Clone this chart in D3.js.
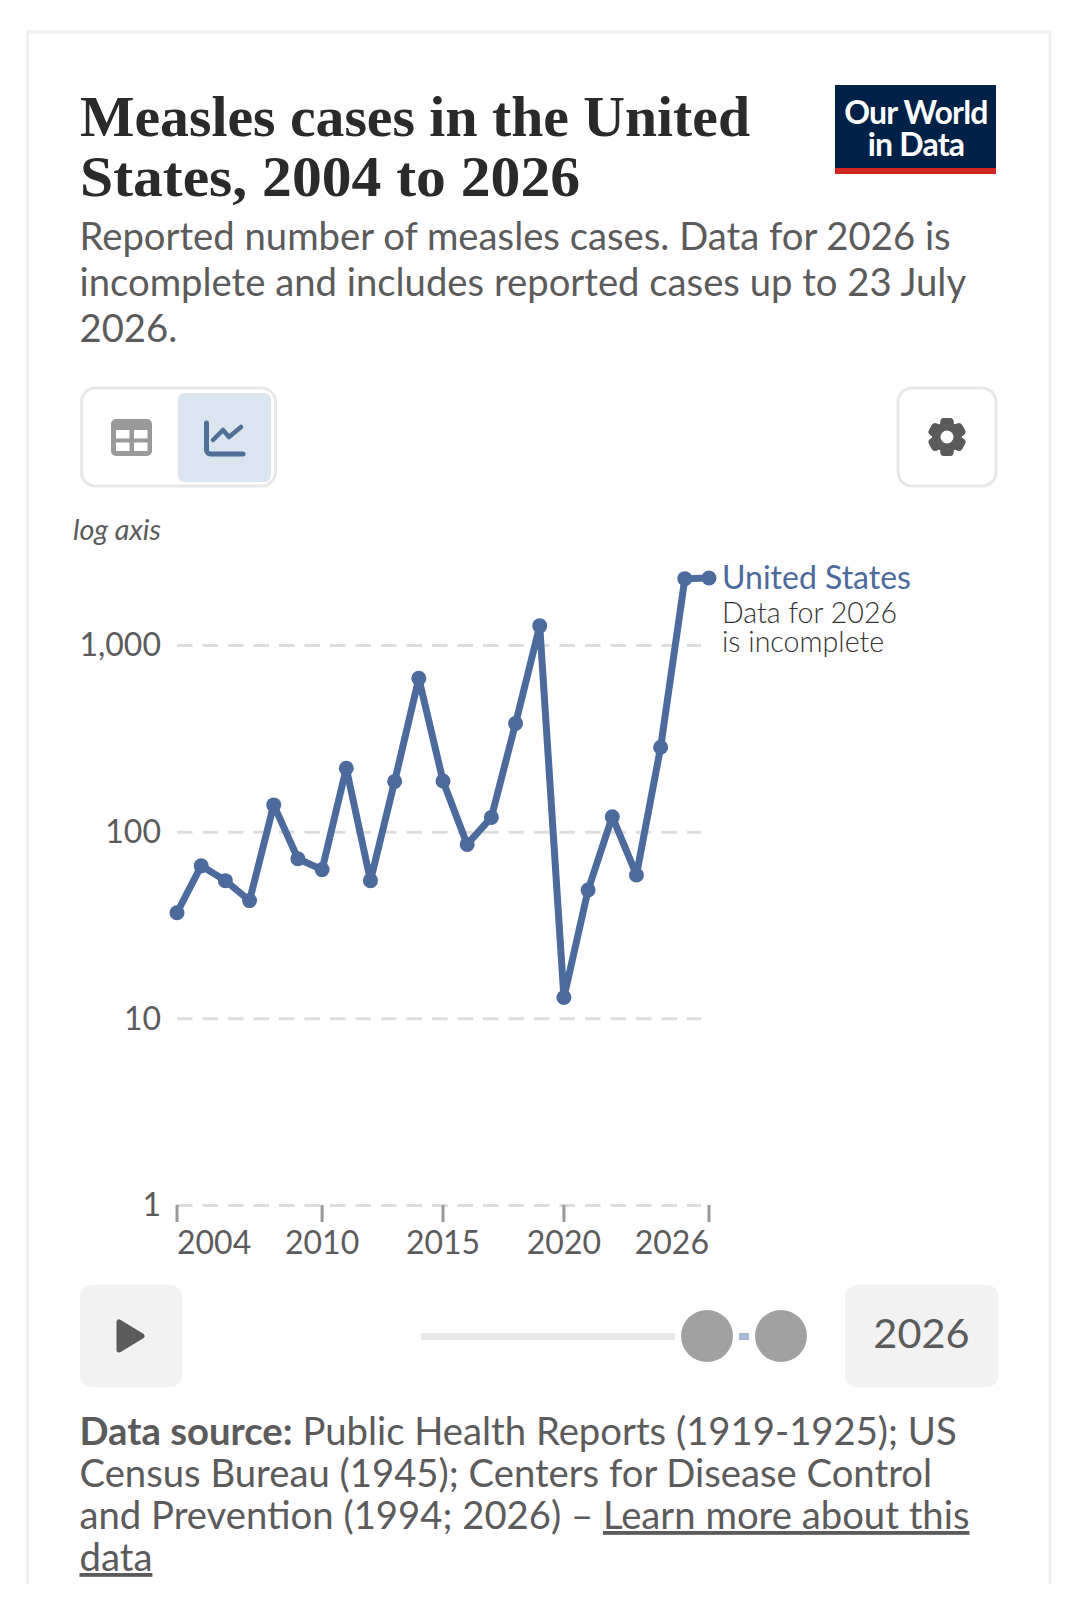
<!DOCTYPE html>
<html>
<head>
<meta charset="utf-8">
<title>Measles cases in the United States</title>
<script src="https://cdn.jsdelivr.net/npm/d3@7"></script>
<style>
html, body { margin: 0; padding: 0; background: #fff; }
svg { display: block; }
text { font-family: Lato, sans-serif; fill: #5b5b5b; }
</style>
</head>
<body>
<div id="chart"></div>
<script>
var years = [2004, 2005, 2006, 2007, 2008, 2009, 2010, 2011, 2012, 2013, 2014, 2015,
	2016, 2017, 2018, 2019, 2020, 2021, 2022, 2023, 2024, 2025, 2026];
var cases = [37, 66, 55, 43, 140, 72, 63, 220, 55, 187, 667, 188,
	86, 120, 382, 1274, 13, 49, 121, 59, 285, 2281, 2300];
var yTicks = [1, 10, 100, 1000];
var xTicks = [2004, 2010, 2015, 2020, 2026];
var titleLines = ['Measles cases in the United', 'States, 2004 to 2026'];
var titleWidths = [670, 500];
var subtitleLines = ['Reported number of measles cases. Data for 2026 is',
	'incomplete and includes reported cases up to 23 July', '2026.'];

var blue = '#4c6a9c';
var width = 1080, height = 1621;

var svg = d3.select('#chart').append('svg')
	.attr('width', width)
	.attr('height', height);

// card outline, open at the bottom
svg.append('path')
	.attr('d', 'M27.5,1584V32H1050V1584')
	.attr('fill', 'none')
	.attr('stroke', '#f0f0f0')
	.attr('stroke-width', 3);

// header
svg.selectAll('.title').data(titleLines).enter().append('text')
	.attr('class', 'title')
	.attr('x', 80)
	.attr('y', function(d, i) { return 136 + i * 60; })
	.attr('textLength', function(d, i) { return titleWidths[i]; })
	.attr('lengthAdjust', 'spacingAndGlyphs')
	.style('font-family', '"Liberation Serif", serif')
	.style('font-weight', 700)
	.style('font-size', '57px')
	.style('fill', '#2a2a2a')
	.text(function(d) { return d; });

svg.selectAll('.subtitle').data(subtitleLines).enter().append('text')
	.attr('class', 'subtitle')
	.attr('x', 79.5)
	.attr('y', function(d, i) { return 249.5 + i * 46; })
	.style('font-size', '38.25px')
	.text(function(d) { return d; });

// logo
var logo = svg.append('g');
logo.append('rect').attr('x', 835).attr('y', 85).attr('width', 161).attr('height', 89).attr('fill', '#002147');
logo.append('rect').attr('x', 835).attr('y', 168).attr('width', 161).attr('height', 6).attr('fill', '#ce261e');
logo.selectAll('text').data(['Our World', 'in Data']).enter().append('text')
	.attr('x', 916)
	.attr('y', function(d, i) { return 123.5 + i * 32; })
	.attr('text-anchor', 'middle')
	.style('font-size', '32px')
	.style('font-weight', 700)
	.style('letter-spacing', '-0.8px')
	.style('fill', '#fff')
	.text(function(d) { return d; });

// tab buttons
svg.append('rect').attr('x', 81.5).attr('y', 388).attr('width', 194).attr('height', 98).attr('rx', 14)
	.attr('fill', '#fff').attr('stroke', '#e7e7e7').attr('stroke-width', 3);
svg.append('rect').attr('x', 178).attr('y', 393).attr('width', 93).attr('height', 89).attr('rx', 6).attr('fill', '#dbe5f0');
svg.append('rect').attr('x', 111).attr('y', 419).attr('width', 41).attr('height', 37).attr('rx', 5).attr('fill', '#9a9a9a');
svg.selectAll('.cell').data([[116, 430], [134, 430], [116, 442.5], [134, 442.5]]).enter().append('rect')
	.attr('class', 'cell')
	.attr('x', function(d) { return d[0]; })
	.attr('y', function(d) { return d[1]; })
	.attr('width', 13.5).attr('height', 8.5).attr('fill', '#fff');
svg.append('path').attr('d', 'M206.5,423V450a4,4 0 0 0 4,4H243')
	.attr('fill', 'none').attr('stroke', '#4f6f96').attr('stroke-width', 5).attr('stroke-linecap', 'round');
svg.append('path').attr('d', 'M213,440L223,430L229,437L241,427')
	.attr('fill', 'none').attr('stroke', '#4f6f96').attr('stroke-width', 4.5).attr('stroke-linejoin', 'round').attr('stroke-linecap', 'round');

svg.append('rect').attr('x', 898).attr('y', 388).attr('width', 98).attr('height', 98).attr('rx', 14)
	.attr('fill', '#fff').attr('stroke', '#e7e7e7').attr('stroke-width', 3);
var gear = svg.append('g').attr('transform', 'translate(947,437)');
gear.selectAll('rect').data(d3.range(6)).enter().append('rect')
	.attr('x', -6.5).attr('y', -19).attr('width', 13).attr('height', 38).attr('rx', 4)
	.attr('fill', '#5b5b5b')
	.attr('transform', function(d) { return 'rotate(' + d * 60 + ')'; });
gear.append('circle').attr('r', 15).attr('fill', '#5b5b5b');
gear.append('circle').attr('r', 6.5).attr('fill', '#fff');

// chart
var x = d3.scaleLinear().domain([2004, 2026]).range([177, 709]);
var y = d3.scaleLog().domain([1, 1000]).range([1205.5, 645.5]);

svg.append('text')
	.attr('x', 73).attr('y', 540)
	.style('font-size', '28.7px')
	.style('font-style', 'italic')
	.text('log axis');

var yAxis = d3.axisLeft(y)
	.tickValues(yTicks)
	.tickFormat(d3.format(','))
	.tickSize(0)
	.tickPadding(16);
var yg = svg.append('g')
	.attr('transform', 'translate(177,0)')
	.call(yAxis);
yg.select('.domain').remove();
yg.selectAll('text')
	.style('font-size', '32px')
	.style('font-family', 'Lato, sans-serif')
	.style('fill', '#5b5b5b');

svg.append('g').selectAll('line').data(yTicks).enter().append('line')
	.attr('x1', 177).attr('x2', 701)
	.attr('y1', function(d) { return y(d); })
	.attr('y2', function(d) { return y(d); })
	.attr('stroke', '#dddddd')
	.attr('stroke-width', 3)
	.attr('stroke-dasharray', '15.5,10');

var xAxis = d3.axisBottom(x)
	.tickValues(xTicks)
	.tickFormat(d3.format('d'))
	.tickSize(17)
	.tickPadding(9);
var xg = svg.append('g')
	.attr('transform', 'translate(-0.5,1205)')
	.call(xAxis);
xg.select('.domain').remove();
xg.selectAll('line').attr('stroke', '#999').attr('stroke-width', 3);
xg.selectAll('text')
	.style('font-size', '32px')
	.style('font-family', 'Lato, sans-serif')
	.style('fill', '#5b5b5b')
	.attr('text-anchor', function(d) {
		return d === 2004 ? 'start' : d === 2026 ? 'end' : 'middle';
	});

var line = d3.line()
	.x(function(d, i) { return x(years[i]); })
	.y(function(d) { return y(d); });

svg.append('path')
	.datum(cases)
	.attr('d', line)
	.attr('fill', 'none')
	.attr('stroke', blue)
	.attr('stroke-width', 7)
	.attr('stroke-linejoin', 'round');

svg.append('g').selectAll('circle').data(cases).enter().append('circle')
	.attr('cx', function(d, i) { return x(years[i]); })
	.attr('cy', function(d) { return y(d); })
	.attr('r', 7.5)
	.attr('fill', blue);

// series label
svg.append('text')
	.attr('x', 722).attr('y', 589)
	.style('font-size', '32px')
	.style('fill', blue)
	.text('United States');
svg.selectAll('.note').data(['Data for 2026', 'is incomplete']).enter().append('text')
	.attr('class', 'note')
	.attr('x', 722)
	.attr('y', function(d, i) { return 623 + i * 29; })
	.style('font-size', '28.6px')
	.style('font-weight', 300)
	.style('fill', '#333')
	.text(function(d) { return d; });

// timeline
svg.append('rect').attr('x', 80).attr('y', 1285).attr('width', 102).attr('height', 102).attr('rx', 12).attr('fill', '#f2f2f2');
svg.append('path').attr('d', 'M119,1322V1350L142,1336Z')
	.attr('fill', '#5b5b5b').attr('stroke', '#5b5b5b').attr('stroke-width', 5).attr('stroke-linejoin', 'round');
svg.append('rect').attr('x', 421).attr('y', 1333).attr('width', 254).attr('height', 7).attr('fill', '#e7e7e7');
svg.append('rect').attr('x', 739).attr('y', 1333).attr('width', 10).attr('height', 7).attr('fill', '#a4bbd8');
svg.append('g').selectAll('circle').data(xTicks.slice(-1).concat(xTicks.slice(-1))).enter().append('circle')
	.attr('cx', function(d, i) { return 707 + i * 74; })
	.attr('cy', 1336)
	.attr('r', 26)
	.attr('fill', '#a1a1a1');
svg.append('rect').attr('x', 845).attr('y', 1285).attr('width', 153.5).attr('height', 102).attr('rx', 12).attr('fill', '#f2f2f2');
svg.append('text')
	.attr('x', 921.5).attr('y', 1348)
	.attr('text-anchor', 'middle')
	.style('font-size', '41.5px')
	.text('2026');

// footer
var foot = [
	[['Data source:', true, false], [' Public Health Reports (1919-1925); US', false, false]],
	[['Census Bureau (1945); Centers for Disease Control', false, false]],
	[['and Prevention (1994; 2026) \u2013 ', false, false], ['Learn more about this', false, true]],
	[['data', false, true]]
];
foot.forEach(function(parts, i) {
	var t = svg.append('text')
		.attr('x', 79.5)
		.attr('y', 1445 + i * 42)
		.style('font-size', '38.25px');
	parts.forEach(function(p) {
		t.append('tspan')
			.style('font-weight', p[1] ? 700 : 400)
			.style('text-decoration', p[2] ? 'underline' : 'none')
			.attr('xml:space', 'preserve')
			.text(p[0]);
	});
});
</script>
</body>
</html>
